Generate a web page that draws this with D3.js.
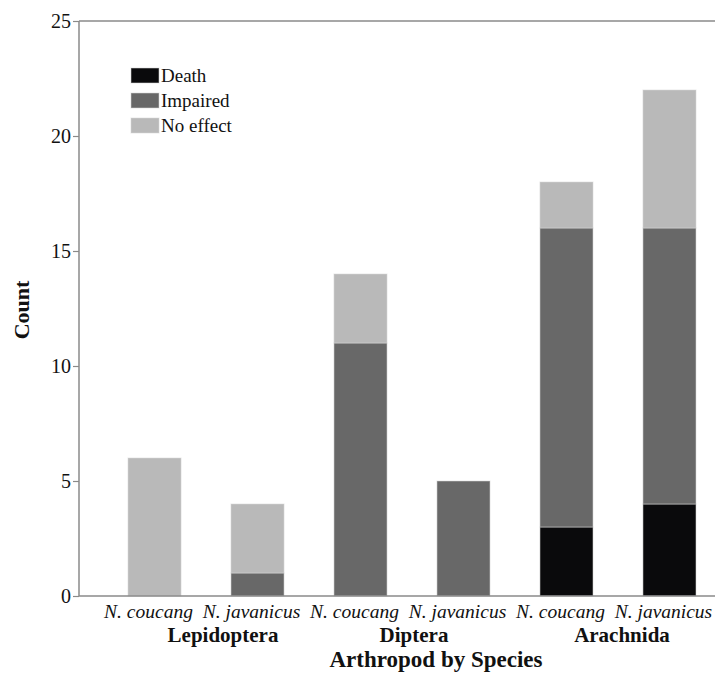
<!DOCTYPE html>
<html><head><meta charset="utf-8">
<script src="https://cdn.jsdelivr.net/npm/d3@7"></script>
<style>body{margin:0;background:#fff}svg{display:block}text{font-family:"Liberation Serif","Times New Roman",serif}</style>
</head><body><svg id="c" width="715" height="673"></svg>
<script>
const groups = ["Lepidoptera", "Diptera", "Arachnida"];
const species = ["N. coucang", "N. javanicus"];
const outcomes = ["Death", "Impaired", "No effect"];
const death    = [0, 0, 0, 0, 3, 4];
const impaired = [0, 1, 11, 5, 13, 12];
const noEffect = [6, 3, 3, 0, 2, 6];
const yTicks = [0, 5, 10, 15, 20, 25];
const colors = ["#0a0a0c", "#686868", "#b9b9b9"];

(function () {
const svg = d3.select("#c");
const W = 715;
const mLeft = 79, mTop = 21, mBottom = 596;

const rows = [];
groups.forEach((g, gi) => species.forEach((s, si) => {
  const i = gi * 2 + si;
  rows.push({key: g + "|" + s, group: g, species: s, "Death": death[i], "Impaired": impaired[i], "No effect": noEffect[i]});
}));

const x = d3.scaleBand().domain(rows.map(r => r.key)).range([128, 696]).paddingInner(0.485).paddingOuter(0);
const y = d3.scaleLinear().domain([0, 25]).range([mBottom, mTop]);
const color = d3.scaleOrdinal().domain(outcomes).range(colors);

const stack = d3.stack().keys(outcomes)(rows);

svg.append("line").attr("x1", mLeft).attr("x2", W).attr("y1", y(25)).attr("y2", y(25)).attr("stroke", "#8a8a8a").attr("stroke-width", 1.5);

svg.append("g").selectAll("g").data(stack).join("g")
  .attr("fill", d => color(d.key))
  .selectAll("rect").data(d => d.filter(p => p[1] - p[0] > 0)).join("rect")
  .attr("x", d => x(d.data.key)).attr("width", x.bandwidth())
  .attr("y", d => y(d[1])).attr("height", d => y(d[0]) - y(d[1]))
  .attr("stroke", "rgba(215,215,215,0.55)").attr("stroke-width", 1);

const ya = svg.append("g").attr("transform", `translate(${mLeft},0)`)
  .call(d3.axisLeft(y).tickValues(yTicks).tickSize(6).tickPadding(2).tickFormat(d3.format("d")));
ya.select(".domain").attr("stroke", "#8a8a8a").attr("stroke-width", 1.5).attr("d", `M0,${mTop}V${mBottom}`);
ya.selectAll(".tick line").attr("stroke", "#8a8a8a").attr("stroke-width", 1.2);
ya.selectAll(".tick text").attr("font-size", 20).attr("fill", "#111").attr("font-family", "Liberation Serif");

svg.append("line").attr("x1", mLeft).attr("x2", W).attr("y1", mBottom).attr("y2", mBottom).attr("stroke", "#8a8a8a").attr("stroke-width", 1.5);

svg.append("g").selectAll("text").data(rows).join("text")
  .attr("x", d => x(d.key) + x.bandwidth() / 2 - 6).attr("y", 618)
  .attr("text-anchor", "middle").attr("font-size", 19.5).attr("font-style", "italic").attr("fill", "#111")
  .text(d => d.species);

const groupDx = [17, 2, 4];
svg.append("g").selectAll("text").data(groups).join("text")
  .attr("x", (g, i) => (x(g + "|" + species[0]) + x(g + "|" + species[1]) + x.bandwidth()) / 2 + groupDx[i])
  .attr("y", 642).attr("text-anchor", "middle").attr("font-size", 21).attr("font-weight", "bold").attr("fill", "#111")
  .text(d => d);

svg.append("text").attr("x", 436).attr("y", 667).attr("text-anchor", "middle")
  .attr("font-size", 23).attr("font-weight", "bold").attr("fill", "#111").text("Arthropod by Species");

svg.append("text").attr("transform", "translate(29,310) rotate(-90)").attr("text-anchor", "middle")
  .attr("font-size", 22).attr("font-weight", "bold").attr("fill", "#111").text("Count");

const lg = svg.append("g").attr("transform", "translate(131,68)");
outcomes.forEach((o, i) => {
  lg.append("rect").attr("x", 0).attr("y", i * 25).attr("width", 28).attr("height", 15).attr("fill", color(o))
    .attr("stroke", "rgba(215,215,215,0.55)");
  lg.append("text").attr("x", 30).attr("y", i * 25 + 14).attr("font-size", 19).attr("fill", "#111").text(o);
});
})();
</script></body></html>
